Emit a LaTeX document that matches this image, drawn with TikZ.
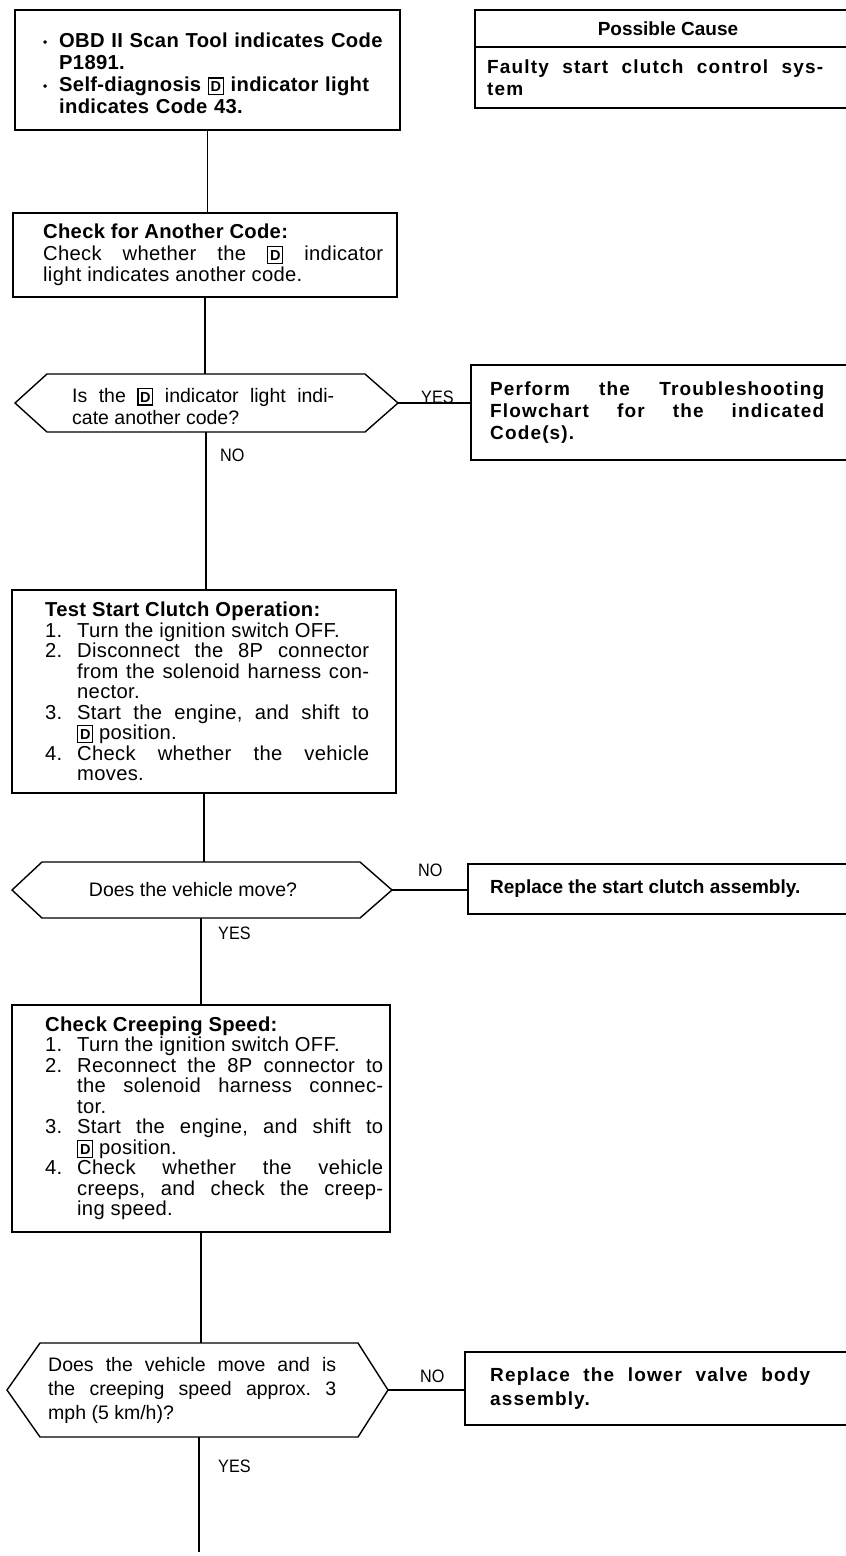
\documentclass[tikz,border=0pt]{standalone}
\usepackage{fontspec}
\setmainfont{Liberation Sans}[LetterSpace=1.5]
\newfontfamily\plainf{Liberation Sans}
\newfontfamily\narrowf{Liberation Sans}[FakeStretch=0.9]
\newfontfamily\widef{Liberation Sans}[LetterSpace=6]
\usetikzlibrary{calc}
\frenchspacing
\newcommand\Dbox{{\setlength\fboxsep{0.8pt}\setlength\fboxrule{1.2pt}\fbox{\rule[-1.5pt]{0pt}{14pt}\kern0.8pt{\plainf\bfseries\fontsize{14.5}{14.5}\selectfont D}\kern0.8pt}}}
\newcommand\itm[1]{\par\noindent\hangindent=32pt\hangafter=1\makebox[32pt][l]{#1}}
\newcommand\bul{\par\noindent\hangindent=16pt\hangafter=1\makebox[16pt][l]{\raisebox{1.5pt}{\fontsize{12}{12}\selectfont\textbullet}}}
\tikzset{
  frame/.style={draw, line width=1.4pt, inner sep=0pt, outer sep=0pt, anchor=north west},
  core/.style={inner sep=0pt, outer sep=0pt},
  body/.style={inner sep=0pt, anchor=west, text width=#1, align=justify,
    execute at begin node={\tolerance=10000\hbadness=10000\hyphenpenalty=10000\frenchspacing}},
  conn/.style={line width=1.2pt},
  hexa/.style={line width=1.4pt},
  lbl/.style={font=\narrowf\fontsize{18}{18}\selectfont, inner sep=0pt, anchor=west},
  boxfont/.style={font=\fontsize{20.2}{20.5}\selectfont},
  qfont/.style={font=\plainf\fontsize{19.5}{22}\selectfont},
  resfont/.style={font=\widef\bfseries\fontsize{19}{22}\selectfont},
}
\begin{document}
\begin{tikzpicture}[x=1pt,y=-1pt]
\useasboundingbox (0,0) rectangle (846,1556);
\clip (0,0) rectangle (846,1556);

% ---------- top box ----------
\node[frame, minimum width=385pt, minimum height=120pt] (b1) at (15,10) {};
\node[body=352pt, align=left, font=\bfseries\fontsize{20.2}{22}\selectfont] (b1t) at ($(b1.west)+(28,0)$)
  {\bul OBD II Scan Tool indicates Code\newline P1891.
   \bul Self-diagnosis \Dbox\ indicator light\newline indicates Code 43.\par};

% ---------- possible cause ----------
\node[frame, minimum width=377pt, minimum height=37pt] (pch) at (475,10) {};
\node[frame, minimum width=377pt, minimum height=61pt] (pcb) at (475,47) {};
\node[inner sep=0pt, font=\plainf\bfseries\fontsize{19}{20}\selectfont] (pcht) at ($(pch.west)+(193,0)$) {Possible Cause};
\node[body=336pt, resfont] (pcbt) at ($(pcb.west)+(12,0)$)
  {Faulty start clutch control sys-\linebreak tem\par};

% ---------- check for another code ----------
\node[frame, minimum width=384pt, minimum height=84pt] (b2) at (13,213) {};
\node[body=340pt, font=\fontsize{20.2}{21.5}\selectfont] (b2t) at ($(b2.west)+(30,0)$)
  {\noindent\textbf{Check for Another Code:}\par\noindent
   Check whether the \Dbox\ indicator\linebreak light indicates another code.\par};

% ---------- decision 1 ----------
\node[core, minimum width=318pt, minimum height=58pt] (d1) at (206,403) {};
\coordinate (d1r) at ($(d1.east)+(33,0)$);
\coordinate (d1l) at ($(d1.west)+(-32,0)$);
\draw[hexa] (d1.north west) -- (d1.north east) -- (d1r) -- (d1.south east)
  -- (d1.south west) -- (d1l) -- cycle;
\node[body=262pt, qfont] (d1t) at ($(d1.west)+(25,3)$)
  {Is the \Dbox\ indicator light indi-\linebreak cate another code?\par};

\node[frame, minimum width=381pt, minimum height=95pt] (pf) at (471,365) {};
\node[body=334pt, resfont] (pft) at ($(pf.west)+(19,0)$)
  {Perform the Troubleshooting\linebreak Flowchart for the indicated\linebreak Code(s).\par};

% ---------- test start clutch ----------
\node[frame, minimum width=384pt, minimum height=203pt] (b3) at (12,590) {};
\node[body=324pt, boxfont] (b3t) at ($(b3.west)+(33,0)$)
  {\noindent\textbf{Test Start Clutch Operation:}
   \itm{1.}Turn the ignition switch OFF.
   \itm{2.}Disconnect the 8P connector\linebreak from the solenoid harness con-\linebreak nector.
   \itm{3.}Start the engine, and shift to\linebreak \Dbox\ position.
   \itm{4.}Check whether the vehicle\linebreak moves.\par};

% ---------- decision 2 ----------
\node[core, minimum width=318pt, minimum height=56pt] (d2) at (201,890) {};
\coordinate (d2r) at ($(d2.east)+(32,0)$);
\coordinate (d2l) at ($(d2.west)+(-30,0)$);
\draw[hexa] (d2.north west) -- (d2.north east) -- (d2r) -- (d2.south east)
  -- (d2.south west) -- (d2l) -- cycle;
\node[inner sep=0pt, qfont] (d2t) at ($(d2.center)+(-8,0)$) {Does the vehicle move?};

\node[frame, minimum width=384pt, minimum height=50pt] (r1) at (468,864) {};
\node[inner sep=0pt, anchor=west, font=\plainf\bfseries\fontsize{19}{22}\selectfont] (r1t) at ($(r1.west)+(22,0)$)
  {Replace the start clutch assembly.};

% ---------- check creeping speed ----------
\node[frame, minimum width=378pt, minimum height=227pt] (b4) at (12,1005) {};
\node[body=338pt, boxfont] (b4t) at ($(b4.west)+(33,0)$)
  {\noindent\textbf{Check Creeping Speed:}
   \itm{1.}Turn the ignition switch OFF.
   \itm{2.}Reconnect the 8P connector to\linebreak the solenoid harness connec-\linebreak tor.
   \itm{3.}Start the engine, and shift to\linebreak \Dbox\ position.
   \itm{4.}Check whether the vehicle\linebreak creeps, and check the creep-\linebreak ing speed.\par};

% ---------- decision 3 ----------
\node[core, minimum width=318pt, minimum height=94pt] (d3) at (199,1390) {};
\coordinate (d3r) at ($(d3.east)+(30,0)$);
\coordinate (d3l) at ($(d3.west)+(-33,0)$);
\draw[hexa] (d3.north west) -- (d3.north east) -- (d3r) -- (d3.south east)
  -- (d3.south west) -- (d3l) -- cycle;
\node[body=288pt, font=\plainf\fontsize{19.5}{24}\selectfont] (d3t) at ($(d3.west)+(8,0)$)
  {Does the vehicle move and is\linebreak the creeping speed approx. 3\linebreak mph (5 km/h)?\par};

\node[frame, minimum width=387pt, minimum height=73pt] (r2) at (465,1352) {};
\node[body=320pt, font=\widef\bfseries\fontsize{19}{24}\selectfont] (r2t) at ($(r2.west)+(25,0)$)
  {Replace the lower valve body\linebreak assembly.\par};

\coordinate (fin) at (199,1552);

% ---------- connectors ----------
\draw[conn] (b1.south) -- (b1.south |- b2.north);
\draw[conn] (b2.south) -- (b2.south |- d1.north);
\draw[conn] (d1.south) -- (d1.south |- b3.north);
\draw[conn] (b3.south) -- (b3.south |- d2.north);
\draw[conn] (d2.south) -- (d2.south |- b4.north);
\draw[conn] (b4.south) -- (b4.south |- d3.north);
\draw[conn] (d3.south) -- (d3.south |- fin);
\draw[conn] (d1r) -- (d1r -| pf.west);
\draw[conn] (d2r) -- (d2r -| r1.west);
\draw[conn] (d3r) -- (d3r -| r2.west);

% ---------- labels ----------
\node[lbl] (yes1) at (421,397) {YES};
\node[lbl] (no1) at (220,455) {NO};
\node[lbl] (no2) at (418,870) {NO};
\node[lbl] (yes2) at (218,933) {YES};
\node[lbl] (no3) at (420,1376) {NO};
\node[lbl] (yes3) at (218,1466) {YES};
\end{tikzpicture}
\end{document}
